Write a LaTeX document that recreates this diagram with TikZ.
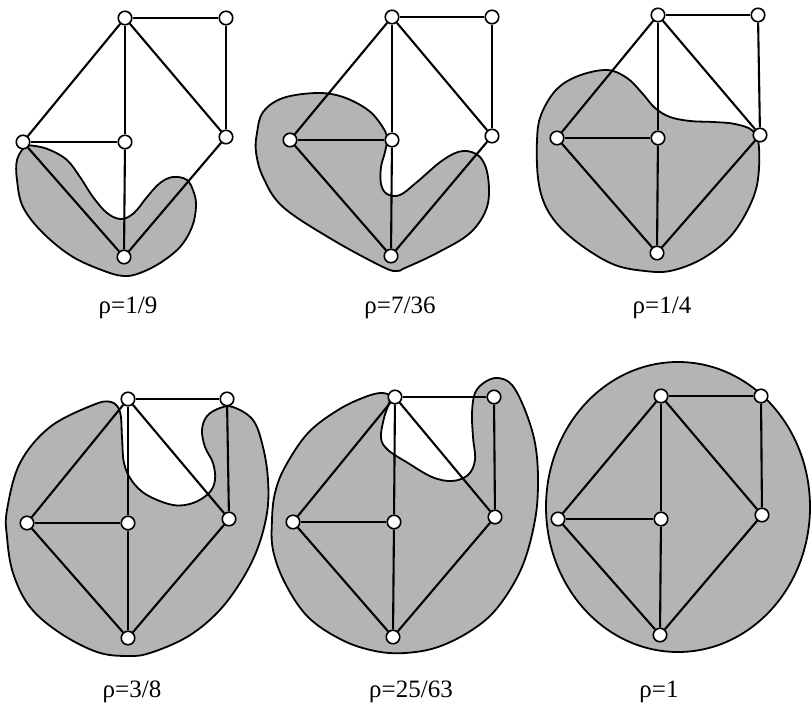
\documentclass[tikz,border=0pt]{standalone}
\usepackage{fontspec}
\setmainfont{Liberation Serif}
\definecolor{shade}{RGB}{180,180,180}
\tikzset{
  vtx/.style={circle,draw=black,fill=white,inner sep=0pt,minimum size=13.5pt,line width=1.6pt},
  gedge/.style={line width=2.1pt},
  blob/.style={fill=shade,draw=black,line width=1.8pt},
  lbl/.style={font=\fontsize{25}{30}\selectfont,anchor=base,inner sep=0pt}
}
\newcommand\drawgraph[7]{%
  \node[vtx] (#1t) at (#2) {};
  \node[vtx] (#1tr) at (#3) {};
  \node[vtx] (#1l) at (#4) {};
  \node[vtx] (#1c) at (#5) {};
  \node[vtx] (#1r) at (#6) {};
  \node[vtx] (#1b) at (#7) {};
  \draw[gedge] (#1t) -- (#1tr);
  \draw[gedge] (#1t) -- (#1l);
  \draw[gedge] (#1t) -- (#1c);
  \draw[gedge] (#1t) -- (#1r);
  \draw[gedge] (#1tr) -- (#1r);
  \draw[gedge] (#1l) -- (#1c);
  \draw[gedge] (#1c) -- (#1b);
  \draw[gedge] (#1l) -- (#1b);
  \draw[gedge] (#1r) -- (#1b);
}
\begin{document}
\begin{tikzpicture}[x=1pt,y=-1pt]
\useasboundingbox (0,0) rectangle (812,707);
% panel 1
\draw[blob] plot[smooth cycle,tension=0.6] coordinates {(25,147) (35,146) (50,150) (67,160) (80,177) (93,197) (107,213) (121,219) (134,213) (147,197) (160,183) (173,177) (187,180) (194,193) (196,207) (192,227) (180,247) (160,263) (140,273) (125,276) (107,272) (73,257) (43,233) (23,207) (17,180) (17,160)};
\drawgraph{a}{125,18}{226,18}{23,142}{125,142}{226,137}{124,257}
\node[lbl] (la) at (128,313) {ρ=1/9};
% panel 2
\draw[blob] plot[smooth cycle,tension=0.6] coordinates {(257,133) (263,112) (283,98) (317,93) (343,97) (368,110) (382,126) (387,138) (385,152) (381,167) (381,184) (387,194) (400,195) (417,182) (443,160) (463,151) (480,157) (488,177) (487,207) (470,233) (437,253) (405,268) (397,271) (383,267) (333,240) (283,207) (263,177) (256,152)};
\drawgraph{b}{392,17}{492,17}{290,140}{392,140}{492,136}{391,256}
\node[lbl] (lb) at (400,313) {ρ=7/36};
% panel 3
\draw[blob] plot[smooth cycle,tension=0.6] coordinates {(537,140) (541,115) (556,90) (578,76) (607,70) (627,78) (642,93) (655,108) (670,117) (690,121) (713,122) (735,124) (753,131) (759,148) (757,185) (745,215) (727,240) (700,260) (670,271) (645,271) (615,265) (585,248) (560,227) (545,205) (538,178)};
\drawgraph{c}{658,15}{758,15}{557,138}{658,138}{760,135}{657,253}
\node[lbl] (lc) at (662,313) {ρ=1/4};
% panel 4
\draw[blob] plot[smooth cycle,tension=0.6] coordinates {(7,510) (20,463) (50,427) (93,405) (111,402) (120,412) (122,437) (124,463) (132,481) (147,495) (173,505) (193,503) (209,493) (215,480) (213,463) (205,447) (202,430) (207,416) (220,408) (233,407) (253,420) (263,447) (268,480) (267,513) (257,550) (240,583) (217,613) (187,637) (150,653) (127,656) (97,652) (60,633) (30,607) (13,573) (7,537)};
\drawgraph{d}{128,399}{227,399}{27,523}{128,523}{229,519}{128,638}
\node[lbl] (ld) at (132,697) {ρ=3/8};
% panel 5
\draw[blob] plot[smooth cycle,tension=0.6] coordinates {(272,520) (275,493) (285,467) (308,433) (338,410) (365,397) (382,393) (390,398) (384,418) (381,438) (388,450) (408,463) (432,477) (452,481) (468,475) (475,460) (473,437) (472,413) (475,393) (485,382) (498,378) (512,385) (525,410) (535,443) (538,480) (535,520) (522,567) (498,607) (472,630) (438,647) (405,653) (375,651) (342,640) (308,617) (285,583) (273,550)};
\drawgraph{e}{395,397}{494,397}{293,522}{394,522}{495,517}{393,637}
\node[lbl] (le) at (411,697) {ρ=25/63};
% panel 6
\draw[blob] (678,507) ellipse [x radius=132pt, y radius=145pt];
\drawgraph{f}{661,396}{761,396}{558,519}{661,519}{762,515}{660,635}
\node[lbl] (lf) at (659,697) {ρ=1};
\end{tikzpicture}
\end{document}
